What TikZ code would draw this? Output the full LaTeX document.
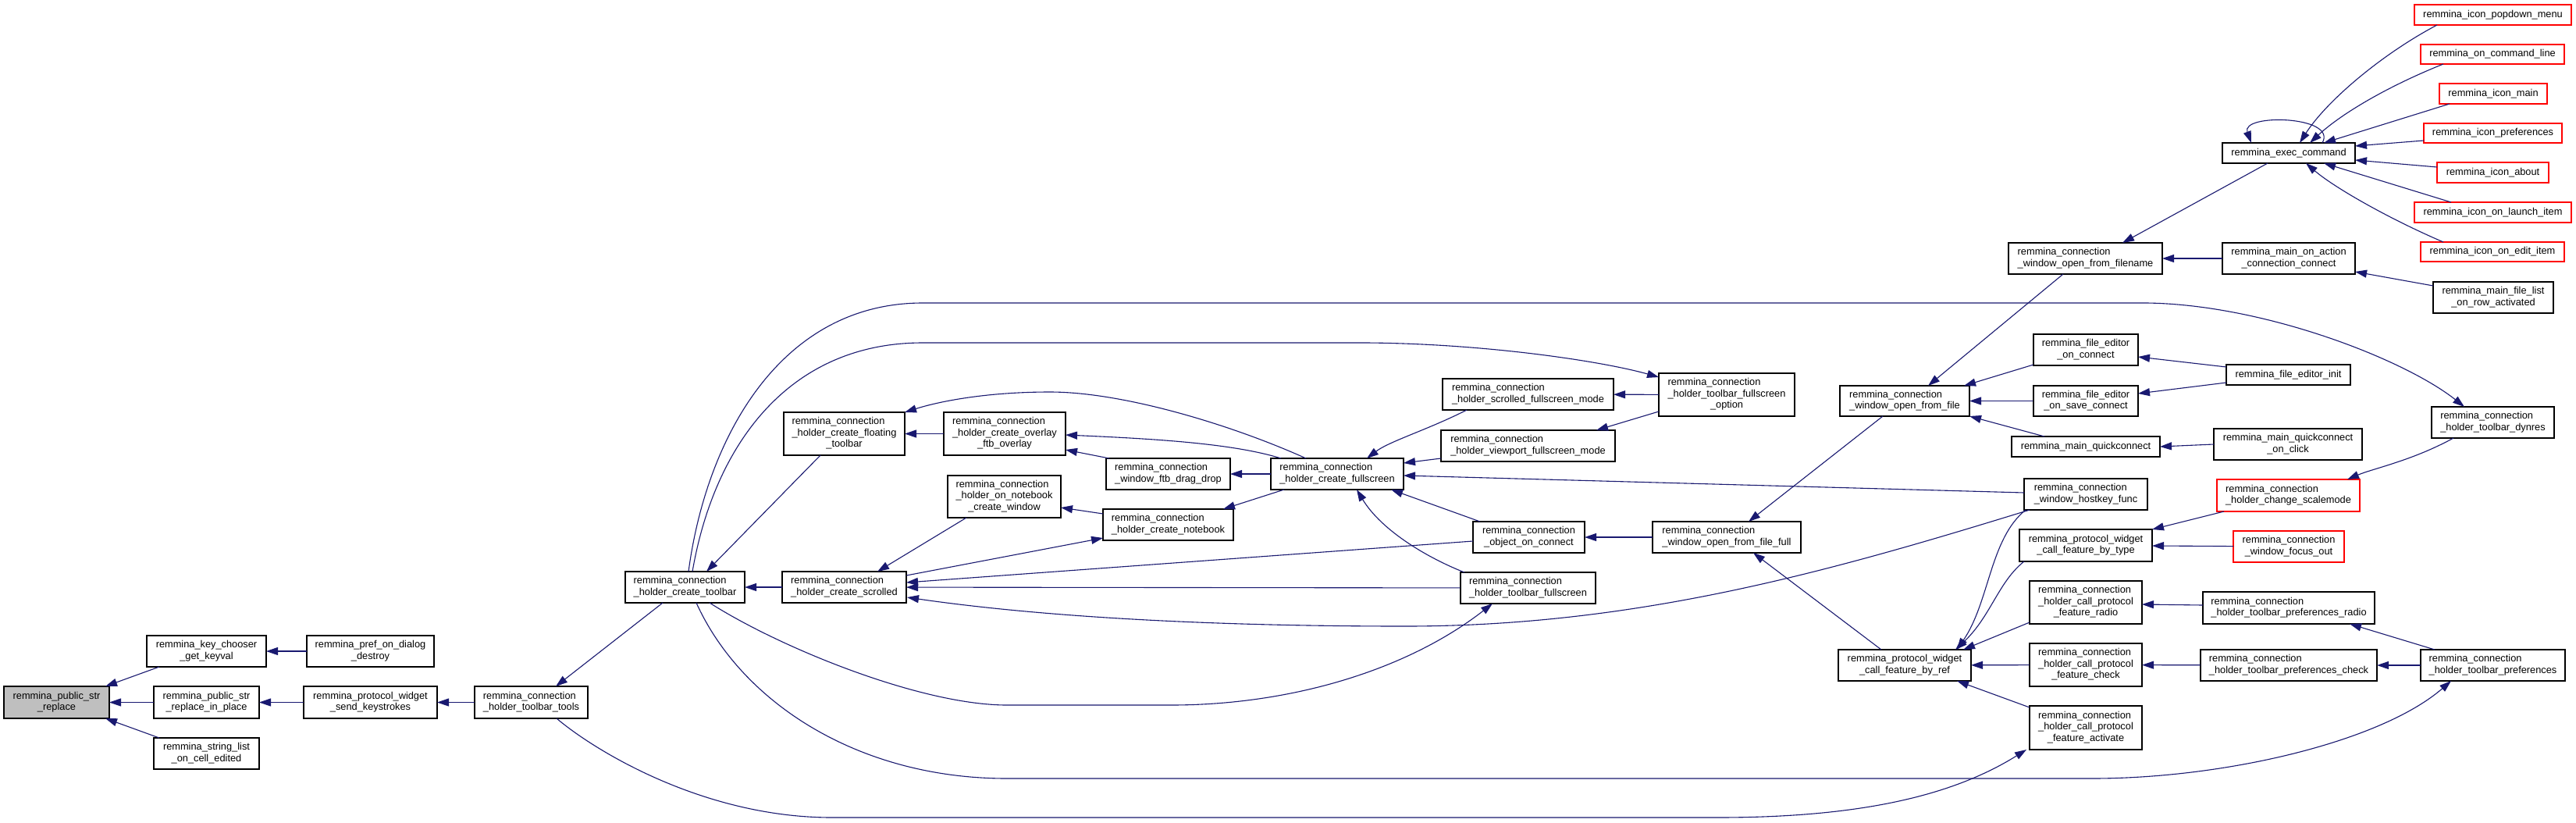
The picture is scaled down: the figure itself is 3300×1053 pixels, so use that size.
\documentclass[tikz,border=0pt]{standalone}
\usepackage{fontspec}
\setmainfont{Liberation Sans}
\usetikzlibrary{calc,arrows.meta}
\definecolor{edgecol}{HTML}{191970}
\definecolor{grayfill}{HTML}{BFBFBF}
\newcommand\twol[2]{\begin{tabular}{@{}l@{}}#1\\\multicolumn{1}{@{}c@{}}{#2}\end{tabular}}
\newcommand\threel[3]{\begin{tabular}{@{}l@{}}#1\\#2\\\multicolumn{1}{@{}c@{}}{#3}\end{tabular}}
\newcommand\bx[7][]{\node[nbox,#1,minimum width={(#4-#2)*1bp},minimum height={(#5-#3)*1bp}] (#6) at ({(#2+#4)/2},{(#3+#5)/2}) {#7};}
\begin{document}
\begin{tikzpicture}[x=1bp,y=-1bp,
  nbox/.style={draw=black,fill=white,line width=1.1bp,inner sep=0pt,outer sep=0pt,
    font=\fontsize{12.8bp}{14.5bp}\selectfont,align=center},
  graybox/.style={fill=grayfill},
  redbox/.style={draw=red},
  cedge/.style={draw=edgecol,line width=1.1bp,-{Triangle[length=15bp,width=10bp]},color=edgecol}]
\fill[white] (0,0) rectangle (3300,1053);
\useasboundingbox (0,0) rectangle (3300,1053);

% nodes
\bx[graybox]{5}{879}{140}{920}{psr}{\twol{remmina\_public\_str}{\_replace}}
\bx{188}{814}{341}{854}{keychooser}{\twol{remmina\_key\_chooser}{\_get\_keyval}}
\bx{393}{814}{556}{854}{prefdestroy}{\twol{remmina\_pref\_on\_dialog}{\_destroy}}
\bx{197}{879}{332}{920}{inplace}{\twol{remmina\_public\_str}{\_replace\_in\_place}}
\bx{389}{879}{560}{920}{sendkeys}{\twol{remmina\_protocol\_widget}{\_send\_keystrokes}}
\bx{608}{879}{753}{920}{tbtools}{\twol{remmina\_connection}{\_holder\_toolbar\_tools}}
\bx{197}{945}{332}{985}{stringlist}{\twol{remmina\_string\_list}{\_on\_cell\_edited}}
\bx{801}{732}{954}{772}{createtoolbar}{\twol{remmina\_connection}{\_holder\_create\_toolbar}}
\bx{1002}{732}{1161}{772}{createscrolled}{\twol{remmina\_connection}{\_holder\_create\_scrolled}}
\bx{1004}{528}{1159}{583}{floating}{\threel{remmina\_connection}{\_holder\_create\_floating}{\_toolbar}}
\bx{1214}{609}{1359}{663}{onnotebook}{\threel{remmina\_connection}{\_holder\_on\_notebook}{\_create\_window}}
\bx{1209}{528}{1365}{583}{overlay}{\threel{remmina\_connection}{\_holder\_create\_overlay}{\_ftb\_overlay}}
\bx{1417}{587}{1576}{627}{dragdrop}{\twol{remmina\_connection}{\_window\_ftb\_drag\_drop}}
\bx{1413}{652}{1580}{692}{createnotebook}{\twol{remmina\_connection}{\_holder\_create\_notebook}}
\bx{1628}{587}{1798}{627}{createfullscreen}{\twol{remmina\_connection}{\_holder\_create\_fullscreen}}
\bx{1848}{485}{2067}{525}{scrolledfs}{\twol{remmina\_connection}{\_holder\_scrolled\_fullscreen\_mode}}
\bx{1846}{551}{2069}{591}{viewportfs}{\twol{remmina\_connection}{\_holder\_viewport\_fullscreen\_mode}}
\bx{1887}{668}{2030}{708}{objconnect}{\twol{remmina\_connection}{\_object\_on\_connect}}
\bx{1871}{733}{2044}{773}{tbfullscreen}{\twol{remmina\_connection}{\_holder\_toolbar\_fullscreen}}
\bx{2125}{478}{2299}{533}{tbfsoption}{\threel{remmina\_connection}{\_holder\_toolbar\_fullscreen}{\_option}}
\bx{2117}{668}{2307}{708}{openfilefull}{\twol{remmina\_connection}{\_window\_open\_from\_file\_full}}
\bx{2357}{494}{2523}{533}{openfile}{\twol{remmina\_connection}{\_window\_open\_from\_file}}
\bx{2573}{311}{2770}{351}{openfilename}{\twol{remmina\_connection}{\_window\_open\_from\_filename}}
\bx{2605}{428}{2739}{468}{feonconnect}{\twol{remmina\_file\_editor}{\_on\_connect}}
\bx{2605}{494}{2739}{533}{feonsave}{\twol{remmina\_file\_editor}{\_on\_save\_connect}}
\bx{2577}{559}{2767}{585}{quickconnect}{remmina\_main\_quickconnect}
\bx{2852}{467}{3011}{493}{feinit}{remmina\_file\_editor\_init}
\bx{2836}{549}{3026}{589}{qconclick}{\twol{remmina\_main\_quickconnect}{\_on\_click}}
\bx{2593}{613}{2751}{653}{hostkey}{\twol{remmina\_connection}{\_window\_hostkey\_func}}
\bx{2355}{832}{2525}{872}{byref}{\twol{remmina\_protocol\_widget}{\_call\_feature\_by\_ref}}
\bx{2587}{678}{2757}{719}{bytype}{\twol{remmina\_protocol\_widget}{\_call\_feature\_by\_type}}
\bx{2600}{744}{2744}{799}{radio}{\threel{remmina\_connection}{\_holder\_call\_protocol}{\_feature\_radio}}
\bx{2600}{824}{2744}{879}{check}{\threel{remmina\_connection}{\_holder\_call\_protocol}{\_feature\_check}}
\bx{2600}{904}{2744}{960}{activate}{\threel{remmina\_connection}{\_holder\_call\_protocol}{\_feature\_activate}}
\bx{2822}{758}{3042}{799}{prefsradio}{\twol{remmina\_connection}{\_holder\_toolbar\_preferences\_radio}}
\bx{2819}{832}{3045}{872}{prefscheck}{\twol{remmina\_connection}{\_holder\_toolbar\_preferences\_check}}
\bx{3101}{832}{3286}{872}{prefs}{\twol{remmina\_connection}{\_holder\_toolbar\_preferences}}
\bx[redbox]{2840}{614}{3023}{655}{scalemode}{\twol{remmina\_connection}{\_holder\_change\_scalemode}}
\bx[redbox]{2861}{680}{3003}{720}{focusout}{\twol{remmina\_connection}{\_window\_focus\_out}}
\bx{3115}{521}{3272}{561}{dynres}{\twol{remmina\_connection}{\_holder\_toolbar\_dynres}}
\bx{2847}{183}{3017}{209}{execcmd}{remmina\_exec\_command}
\bx{2847}{311}{3017}{351}{mainaction}{\twol{remmina\_main\_on\_action}{\_connection\_connect}}
\bx{3117}{361}{3271}{401}{filelist}{\twol{remmina\_main\_file\_list}{\_on\_row\_activated}}
\bx[redbox]{3093}{6}{3294}{32}{popdown}{remmina\_icon\_popdown\_menu}
\bx[redbox]{3101}{57}{3285}{82}{cmdline}{remmina\_on\_command\_line}
\bx[redbox]{3125}{107}{3263}{133}{iconmain}{remmina\_icon\_main}
\bx[redbox]{3105}{158}{3282}{183}{iconprefs}{remmina\_icon\_preferences}
\bx[redbox]{3122}{208}{3265}{234}{iconabout}{remmina\_icon\_about}
\bx[redbox]{3093}{259}{3294}{285}{launch}{remmina\_icon\_on\_launch\_item}
\bx[redbox]{3101}{310}{3285}{335}{edit}{remmina\_icon\_on\_edit\_item}

% edges
\draw[cedge] ($(keychooser.south west)+(16,0)$) -- ($(psr.north east)+(-5,0)$);
\draw[cedge] (inplace) -- (psr);
\draw[cedge] ($(stringlist.north west)+(7,0)$) -- ($(psr.south east)+(-5,0)$);
\draw[cedge] (prefdestroy) -- (keychooser);
\draw[cedge] (sendkeys) -- (inplace);
\draw[cedge] (tbtools) -- (sendkeys);
\draw[cedge] ($(createtoolbar.south west)+(48,0)$) -- ($(tbtools.north west)+(104,0)$);
\draw[cedge] ($(tbtools.south west)+(105,0)$) .. controls (760,960) and (900,1047) .. (1066,1047) -- (2200,1047) .. controls (2380,1047) and (2500,1020) .. ($(activate.south west)+(-4,0)$);
\draw[cedge] (createscrolled) -- (createtoolbar);
\draw[cedge] ($(floating.south west)+(47,0)$) -- ($(createtoolbar.north west)+(104,0)$);
\draw[cedge] ($(createtoolbar.north west)+(81,0)$) .. controls (905,560) and (1000,388) .. (1182,388) -- (2750,388) .. controls (2900,390) and (3080,460) .. ($(dynres.north west)+(42,0)$);
\draw[cedge] ($(createtoolbar.north west)+(86,0)$) .. controls (915,570) and (1010,439) .. (1182,439) -- (1750,439) .. controls (1900,440) and (2050,462) .. ($(tbfsoption.north west)+(0,5)$);
\draw[cedge] ($(createtoolbar.south west)+(108,0)$) .. controls (1000,830) and (1180,903) .. (1290,903) -- (1500,903) .. controls (1650,903) and (1800,860) .. ($(tbfullscreen.south west)+(41,0)$);
\draw[cedge] ($(createtoolbar.south west)+(91,0)$) .. controls (950,900) and (1100,997) .. (1290,997) -- (2680,997) .. controls (2850,997) and (3050,950) .. ($(prefs.south west)+(39,0)$);
\draw[cedge] ($(onnotebook.south west)+(24,0)$) -- ($(createscrolled.north west)+(122,0)$);
\draw[cedge] ($(createscrolled.north east)+(0,5)$) -- ($(createnotebook.south west)+(0,-3)$);
\draw[cedge] ($(objconnect.north west)+(0,25)$) -- ($(createscrolled.north east)+(0,14)$);
\draw[cedge] (tbfullscreen) -- (createscrolled);
\draw[cedge] ($(hostkey.south west)+(7,0)$) .. controls (2350,730) and (2100,802) .. (1800,802) .. controls (1500,802) and (1300,785) .. ($(createscrolled.north east)+(1,33)$);
\draw[cedge] (overlay) -- (floating);
\draw[cedge] ($(createfullscreen.north west)+(45,0)$) .. controls (1580,545) and (1440,502) .. (1345,502) .. controls (1260,502) and (1200,515) .. (floating.north east);
\draw[cedge] ($(createfullscreen.north west)+(13,0)$) .. controls (1580,568) and (1480,562) .. ($(overlay.north east)+(0,29)$);
\draw[cedge] ($(dragdrop.north west)+(4,0)$) -- ($(overlay.north east)+(0,48)$);
\draw[cedge] (createfullscreen) -- (dragdrop);
\draw[cedge] ($(createfullscreen.south west)+(17,0)$) -- ($(createnotebook.north east)+(-13,0)$);
\draw[cedge] ($(createnotebook.north west)+(0,6)$) -- ($(onnotebook.north east)+(0,41)$);
\draw[cedge] ($(scrolledfs.south west)+(31,0)$) .. controls (1830,550) and (1780,565) .. ($(createfullscreen.north west)+(123,0)$);
\draw[cedge] ($(viewportfs.north west)+(0,36)$) -- ($(createfullscreen.north east)+(0,6)$);
\draw[cedge] ($(hostkey.north west)+(0,18)$) -- ($(createfullscreen.north east)+(0,22)$);
\draw[cedge] ($(objconnect.north west)+(9,0)$) -- ($(createfullscreen.south east)+(-16,0)$);
\draw[cedge] ($(tbfullscreen.north west)+(5,0)$) .. controls (1830,715) and (1770,680) .. ($(createfullscreen.south west)+(110,0)$);
\draw[cedge] (tbfsoption) -- (scrolledfs);
\draw[cedge] ($(tbfsoption.south west)+(0,-6)$) -- ($(viewportfs.north east)+(-24,0)$);
\draw[cedge] (openfilefull) -- (objconnect);
\draw[cedge] ($(openfile.south west)+(55,0)$) -- ($(openfilefull.north west)+(123,0)$);
\draw[cedge] ($(byref.north west)+(55,0)$) -- ($(openfilefull.south west)+(129,0)$);
\draw[cedge] ($(openfilename.south west)+(70,0)$) -- ($(openfile.north west)+(113,0)$);
\draw[cedge] ($(feonconnect.south west)+(0,-1)$) -- ($(openfile.north east)+(-7,0)$);
\draw[cedge] (feonsave) -- (openfile);
\draw[cedge] ($(quickconnect.north west)+(42,0)$) -- (openfile.south east);
\draw[cedge] ($(feinit.north west)+(0,3)$) -- ($(feonconnect.north east)+(0,29)$);
\draw[cedge] ($(feinit.south west)+(0,-3)$) -- ($(feonsave.north east)+(0,10)$);
\draw[cedge] (qconclick.west) -- (quickconnect.east);
\draw[cedge] ($(execcmd.south west)+(58,0)$) -- ($(openfilename.north west)+(146,0)$);
\draw[cedge] (mainaction) -- (openfilename);
\draw[cedge] ($(filelist.north west)+(0,5)$) -- ($(mainaction.south east)+(0,-3)$);
\draw[cedge] ($(execcmd.north west)+(128,0)$) .. controls (2995,148) and (2870,145) .. ($(execcmd.north west)+(37,0)$);
\draw[cedge] ($(popdown.south west)+(29,0)$) .. controls (3050,70) and (2980,130) .. ($(execcmd.north west)+(99,0)$);
\draw[cedge] ($(cmdline.south west)+(29,0)$) .. controls (3060,110) and (3000,145) .. ($(execcmd.north west)+(112,0)$);
\draw[cedge] ($(iconmain.south west)+(13,0)$) -- ($(execcmd.north west)+(130,0)$);
\draw[cedge] ($(iconprefs.south west)+(0,-3)$) -- ($(execcmd.north east)+(0,4)$);
\draw[cedge] ($(iconabout.north west)+(0,6)$) -- ($(execcmd.south east)+(0,-4)$);
\draw[cedge] ($(launch.north west)+(47,0)$) -- ($(execcmd.south west)+(130,0)$);
\draw[cedge] ($(edit.north west)+(29,0)$) .. controls (3060,280) and (2990,240) .. ($(execcmd.south west)+(107,0)$);
\draw[cedge] ($(dynres.south west)+(28,0)$) .. controls (3090,590) and (3040,600) .. ($(scalemode.north east)+(-16,0)$);
\draw[cedge] ($(scalemode.south west)+(9,0)$) -- (bytype.north east);
\draw[cedge] (focusout) -- (bytype);
\draw[cedge] ($(bytype.south west)+(6,0)$) .. controls (2560,745) and (2550,790) .. ($(byref.north west)+(150,0)$);
\draw[cedge] ($(hostkey.south west)+(2,0)$) .. controls (2549,690) and (2549,770) .. ($(byref.north west)+(152,0)$);
\draw[cedge] ($(prefsradio.north west)+(0,17)$) -- ($(radio.north east)+(0,30)$);
\draw[cedge] ($(radio.south west)+(0,-2)$) -- ($(byref.north east)+(-10,0)$);
\draw[cedge] (prefscheck) -- (check);
\draw[cedge] (check) -- (byref);
\draw[cedge] ($(activate.north west)+(0,2)$) -- ($(byref.south east)+(-18,0)$);
\draw[cedge] ($(prefs.north west)+(18,0)$) -- ($(prefsradio.south east)+(-32,0)$);
\draw[cedge] (prefs) -- (prefscheck);
\end{tikzpicture}
\end{document}
